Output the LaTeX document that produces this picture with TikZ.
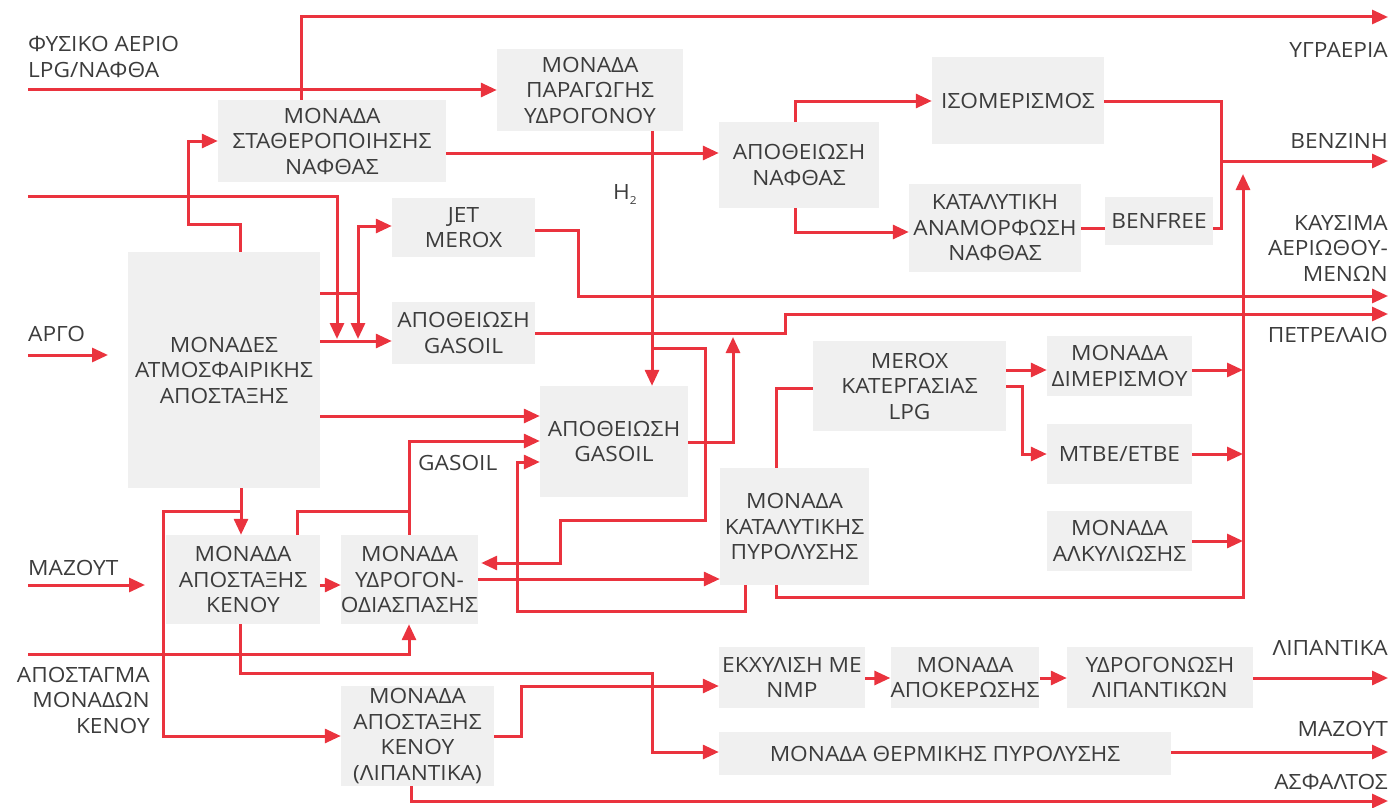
\documentclass[tikz,border=0pt]{standalone}
\usepackage{fontspec}
\setmainfont{Open Sans}[FakeStretch=1.08]
\usetikzlibrary{arrows.meta}
\definecolor{rd}{RGB}{234,51,62}
\definecolor{bx}{RGB}{240,240,240}
\definecolor{tx}{RGB}{60,60,60}
\begin{document}
\begin{tikzpicture}[x=1pt,y=-1pt,
  box/.style={fill=bx, text=tx, align=center, inner sep=0pt, font=\fontsize{21}{25.5}\selectfont},
  lbl/.style={text=tx, inner sep=0pt, font=\fontsize{21}{25.5}\selectfont},
  ln/.style={draw=rd, line width=3pt},
  arr/.style={ln, -{Triangle[length=16pt,width=14pt]}}
]
\useasboundingbox (0,0) rectangle (1398,808);
% boxes
\node[box,minimum width=186,minimum height=82] (hyd) at (590,90) {ΜΟΝΑΔΑ\\ΠΑΡΑΓΩΓΗΣ\\ΥΔΡΟΓΟΝΟΥ};
\node[box,minimum width=228,minimum height=82] (stab) at (332,141) {ΜΟΝΑΔΑ\\ΣΤΑΘΕΡΟΠΟΙΗΣΗΣ\\ΝΑΦΘΑΣ};
\node[box,minimum width=160,minimum height=86] (apn) at (799,165) {ΑΠΟΘΕΙΩΣΗ\\ΝΑΦΘΑΣ};
\node[box,minimum width=172,minimum height=87] (iso) at (1018,100.5) {ΙΣΟΜΕΡΙΣΜΟΣ};
\node[box,minimum width=172,minimum height=88] (kat) at (995,228) {ΚΑΤΑΛΥΤΙΚΗ\\ΑΝΑΜΟΡΦΩΣΗ\\ΝΑΦΘΑΣ};
\node[box,minimum width=108,minimum height=48] (ben) at (1159,221) {BENFREE};
\node[box,minimum width=192,minimum height=236] (atm) at (224,370) {ΜΟΝΑΔΕΣ\\ΑΤΜΟΣΦΑΙΡΙΚΗΣ\\ΑΠΟΣΤΑΞΗΣ};
\node[box,minimum width=143,minimum height=59] (jet) at (463.5,227.5) {JET\\MEROX};
\node[box,minimum width=143,minimum height=62] (gas1) at (463.5,333) {ΑΠΟΘΕΙΩΣΗ\\GASOIL};
\node[box,minimum width=148,minimum height=111] (gas2) at (614,441.5) {ΑΠΟΘΕΙΩΣΗ\\GASOIL};
\node[box,minimum width=193,minimum height=90] (merox) at (909.5,386) {MEROX\\ΚΑΤΕΡΓΑΣΙΑΣ\\LPG};
\node[box,minimum width=145,minimum height=60] (dim) at (1119.5,366) {ΜΟΝΑΔΑ\\ΔΙΜΕΡΙΣΜΟΥ};
\node[box,minimum width=145,minimum height=60] (mtbe) at (1119.5,454) {MTBE/ETBE};
\node[box,minimum width=145,minimum height=60] (alk) at (1119.5,541) {ΜΟΝΑΔΑ\\ΑΛΚΥΛΙΩΣΗΣ};
\node[box,minimum width=149,minimum height=117] (fcc) at (794.5,526.5) {ΜΟΝΑΔΑ\\ΚΑΤΑΛΥΤΙΚΗΣ\\ΠΥΡΟΛΥΣΗΣ};
\node[box,minimum width=154,minimum height=89] (vac) at (243,579.5) {ΜΟΝΑΔΑ\\ΑΠΟΣΤΑΞΗΣ\\ΚΕΝΟΥ};
\node[box,minimum width=133,minimum height=89] (hc) at (409.5,579.5) {ΜΟΝΑΔΑ\\ΥΔΡΟΓΟΝ-\\ΟΔΙΑΣΠΑΣΗΣ};
\node[box,minimum width=146,minimum height=61] (nmp) at (792,677.5) {ΕΚΧΥΛΙΣΗ ΜΕ\\NMP};
\node[box,minimum width=140,minimum height=61] (dew) at (965,677.5) {ΜΟΝΑΔΑ\\ΑΠΟΚΕΡΩΣΗΣ};
\node[box,minimum width=186,minimum height=61] (hyl) at (1160,677.5) {ΥΔΡΟΓΟΝΩΣΗ\\ΛΙΠΑΝΤΙΚΩΝ};
\node[box,minimum width=153,minimum height=100] (lub) at (417.5,736) {ΜΟΝΑΔΑ\\ΑΠΟΣΤΑΞΗΣ\\ΚΕΝΟΥ\\(ΛΙΠΑΝΤΙΚΑ)};
\node[box,minimum width=452,minimum height=43] (th) at (945,753.5) {ΜΟΝΑΔΑ ΘΕΡΜΙΚΗΣ ΠΥΡΟΛΥΣΗΣ};
% left labels
\node[lbl,anchor=west,align=left] (lfa) at (28,57) {ΦΥΣΙΚΟ ΑΕΡΙΟ\\LPG/ΝΑΦΘΑ};
\node[lbl,anchor=west] (larg) at (28,334) {ΑΡΓΟ};
\node[lbl,anchor=west] (lmaz) at (28,568) {ΜΑΖΟΥΤ};
\node[lbl,anchor=east,align=right] (lapo) at (150,700) {ΑΠΟΣΤΑΓΜΑ\\ΜΟΝΑΔΩΝ\\ΚΕΝΟΥ};
\node[lbl,anchor=west] (lgas) at (418,463) {GASOIL};
\node[lbl,anchor=west] (lh2) at (613,195) {H\raisebox{-5pt}{\fontsize{11}{11}\selectfont 2}};
% right labels
\node[lbl,anchor=east] (rlpg) at (1388,50) {ΥΓΡΑΕΡΙΑ};
\node[lbl,anchor=east] (rben) at (1388,141) {ΒΕΝΖΙΝΗ};
\node[lbl,anchor=east,align=right] (rjet) at (1388,248) {ΚΑΥΣΙΜΑ\\ΑΕΡΙΩΘΟΥ-\\ΜΕΝΩΝ};
\node[lbl,anchor=east] (rpet) at (1388,335) {ΠΕΤΡΕΛΑΙΟ};
\node[lbl,anchor=east] (rlip) at (1388,648) {ΛΙΠΑΝΤΙΚΑ};
\node[lbl,anchor=east] (rmaz) at (1388,729) {ΜΑΖΟΥΤ};
\node[lbl,anchor=east] (rasf) at (1388,782) {ΑΣΦΑΛΤΟΣ};
% free ends
\coordinate (f1) at (28,90);
\coordinate (f2) at (28,196);
\coordinate (f3) at (28,355);
\coordinate (f4) at (28,585);
\coordinate (f5) at (28,654);
\coordinate (o1) at (1388,17);
\coordinate (o2) at (1388,161);
\coordinate (o3) at (1388,296);
\coordinate (o4) at (1388,314);
\coordinate (o5) at (1388,678);
\coordinate (o6) at (1388,752);
\coordinate (o7) at (1388,801);
% connectors
\draw[arr] (f1) -- (f1 -| hyd.west);
\draw[arr] (stab.north -| 301,0) -- (301,17) -- (o1);
\draw[arr] (atm.north -| 240,0) -- (240,224) -- (188,224) -- (188,141) -- (stab.west);
\draw[arr] (f2) -- (337,196) -- (337,339);
\draw[arr] (atm.east |- 0,293) -- (358,293) -- (358,226) -- (jet.west |- 0,226);
\draw[arr] (358,293) -- (358,339);
\draw[arr] (atm.east |- 0,341) -- (gas1.west |- 0,341);
\draw[arr] (atm.east |- 0,416) -- (gas2.west |- 0,416);
\draw[arr] (f3) -- (108,355);
\draw[arr] (atm.south -| 241,0) -- (vac.north -| 241,0);
\draw[arr] (241,511) -- (163,511) -- (163,736) -- (lub.west |- 0,736);
\draw[arr] (stab.east |- 0,153) -- (apn.west |- 0,153);
\draw[arr] (hyd.south -| 652,0) -- (gas2.north -| 652,0);
\draw[arr] (652,348) -- (705,348) -- (705,520) -- (560,520) -- (560,563) -- ([xshift=3pt]hc.east |- 0,563);
\draw[arr] (apn.north -| 795,0) -- (795,101) -- (iso.west |- 0,101);
\draw[arr] (apn.south -| 795,0) -- (795,232) -- (kat.west |- 0,232);
\draw[ln] (kat.east |- 0,228) -- (ben.west |- 0,228);
\draw[ln] (iso.east |- 0,101) -- (1221,101) -- (1221,228) -- (ben.east |- 0,228);
\draw[arr] (1221,161) -- (o2);
\draw[arr] (fcc.south -| 776,0) -- (776,597) -- (1243,597) -- (1243,174);
\draw[arr] (dim.east |- 0,370) -- (1243,370);
\draw[arr] (mtbe.east |- 0,454) -- (1243,454);
\draw[arr] (alk.east |- 0,541) -- (1243,541);
\draw[arr] (merox.east |- 0,370) -- (dim.west |- 0,370);
\draw[arr] (merox.east |- 0,386) -- (1022,386) -- (1022,454) -- (mtbe.west |- 0,454);
\draw[ln] (fcc.north -| 776,0) -- (776,388) -- (merox.west |- 0,388);
\draw[arr] (fcc.south -| 745,0) -- (745,611) -- (517,611) -- (517,462) -- (gas2.west |- 0,462);
\draw[arr] (hc.east |- 0,579) -- (fcc.west |- 0,579);
\draw[arr] (gas2.east |- 0,442) -- (733,442) -- (733,337);
\draw[arr] (jet.east |- 0,230) -- (578,230) -- (578,296) -- (o3);
\draw[arr] (gas1.east |- 0,333) -- (785,333) -- (785,314) -- (o4);
\draw[arr] (hc.north -| 409,0) -- (409,441) -- (gas2.west |- 0,441);
\draw[ln] (vac.north -| 297,0) -- (297,511) -- (409,511);
\draw[arr] (f4) -- (145,585);
\draw[arr] (vac.east |- 0,585) -- (hc.west |- 0,585);
\draw[arr] (f5) -- (409,654) -- (hc.south -| 409,0);
\draw[arr] (vac.south -| 240,0) -- (240,673) -- (652,673) -- (652,752) -- (th.west |- 0,752);
\draw[arr] (lub.east |- 0,736) -- (521,736) -- (521,686) -- (nmp.west |- 0,686);
\draw[arr] (lub.south -| 411,0) -- (411,801) -- (o7);
\draw[arr] (nmp.east |- 0,678) -- (dew.west |- 0,678);
\draw[arr] (dew.east |- 0,678) -- (hyl.west |- 0,678);
\draw[arr] (hyl.east |- 0,678) -- (o5);
\draw[arr] (th.east |- 0,752) -- (o6);
\end{tikzpicture}
\end{document}
